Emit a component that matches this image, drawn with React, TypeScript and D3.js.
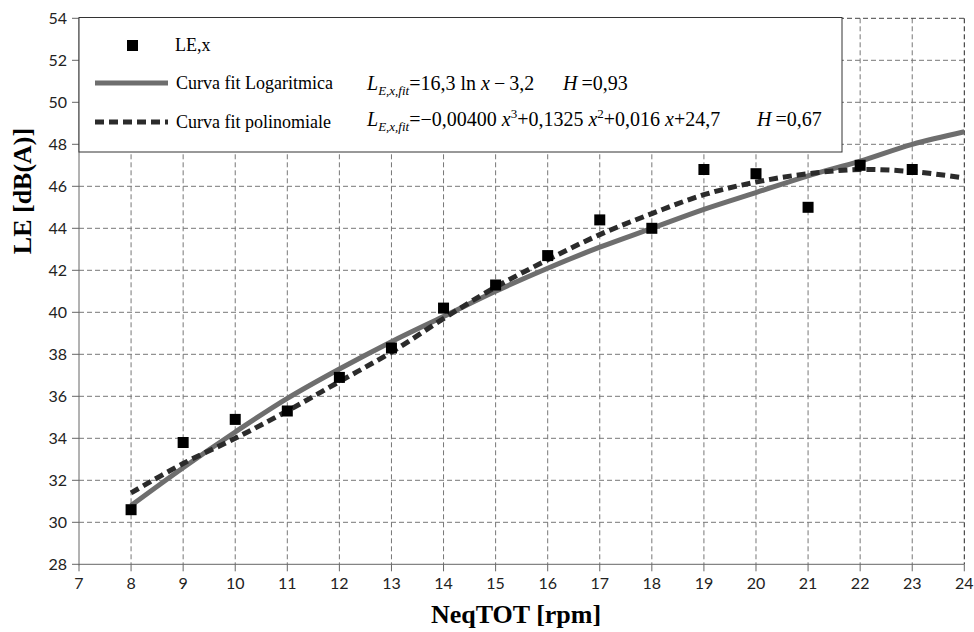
import * as d3 from "d3";

// punti misurati LE,x
const pointX = [8, 9, 10, 11, 12, 13, 14, 15, 16, 17, 18, 19, 20, 21, 22, 23];
const pointY = [30.6, 33.8, 34.9, 35.3, 36.9, 38.3, 40.2, 41.3, 42.7, 44.4, 44.0, 46.8, 46.6, 45.0, 47.0, 46.8];

// curve di fit
const curveX = [8, 9, 10, 11, 12, 13, 14, 15, 16, 17, 18, 19, 20, 21, 22, 23, 24];
const logY = [30.8, 32.6, 34.3, 35.9, 37.3, 38.6, 39.8, 41.0, 42.1, 43.1, 44.0, 44.9, 45.7, 46.5, 47.2, 48.0, 48.6];
const polyY = [31.4, 32.8, 34.0, 35.3, 36.7, 38.1, 39.7, 41.2, 42.5, 43.7, 44.7, 45.6, 46.2, 46.6, 46.8, 46.7, 46.4];

const xTicks = d3.range(7, 25);
const yTicks = d3.range(28, 55, 2);

const W = 974;
const H = 632;
const serif = "'Liberation Serif', 'Times New Roman', serif";
const sans = "Lato, 'Noto Sans', sans-serif";

export default function App() {
  const x = d3.scaleLinear().domain([7, 24]).range([79, 964.3]);
  const y = d3.scaleLinear().domain([28, 54]).range([564.3, 18.3]);

  const line = d3
    .line<number>()
    .x((_, i) => x(curveX[i]))
    .curve(d3.curveCatmullRom);
  const logPath = line.y((d) => y(d))(logY) || "";
  const polyPath = line.y((d) => y(d))(polyY) || "";

  const left = x(7);
  const bottom = y(28);

  return (
    <svg
      width={W}
      height={H}
      style={{ position: "absolute", left: 0, top: 0, background: "#fff" }}
    >
      {/* griglia */}
      {xTicks.slice(1).map((t) => (
        <line
          key={"gx" + t}
          x1={x(t)}
          x2={x(t)}
          y1={y(54)}
          y2={bottom}
          stroke={t === 24 ? "#222" : "#777"}
          strokeDasharray="5,3"
        />
      ))}
      {yTicks.slice(1).map((t) => (
        <line
          key={"gy" + t}
          x1={left}
          x2={x(24)}
          y1={y(t)}
          y2={y(t)}
          stroke={t === 54 ? "#444" : "#777"}
          strokeDasharray="5,3"
        />
      ))}

      {/* assi */}
      <line x1={left} x2={left} y1={y(54)} y2={bottom + 1} stroke="#666" />
      <line x1={left} x2={x(24)} y1={bottom} y2={bottom} stroke="#666" />
      {xTicks.map((t) => (
        <g key={"tx" + t}>
          <line x1={x(t)} x2={x(t)} y1={bottom} y2={bottom + 7} stroke="#666" />
          <text
            x={x(t)}
            y={bottom + 25}
            textAnchor="middle"
            fontFamily={sans}
            fontSize={16}
            fill="#222"
          >
            {t}
          </text>
        </g>
      ))}
      {yTicks.map((t) => (
        <g key={"ty" + t}>
          <line x1={left - 7} x2={left} y1={y(t)} y2={y(t)} stroke="#666" />
          <text
            x={left - 12}
            y={y(t) + 5.5}
            textAnchor="end"
            fontFamily={sans}
            fontSize={16}
            fill="#222"
          >
            {t}
          </text>
        </g>
      ))}

      {/* curve */}
      <path d={logPath} fill="none" stroke="#6e6e6e" strokeWidth={5} />
      <path
        d={polyPath}
        fill="none"
        stroke="#2b2b2b"
        strokeWidth={5}
        strokeDasharray="9,5"
      />

      {/* punti */}
      {pointX.map((px, i) => (
        <rect
          key={"p" + px}
          x={x(px) - 5.5}
          y={y(pointY[i]) - 5.5}
          width={11}
          height={11}
          fill="#000"
        />
      ))}

      {/* legenda */}
      <rect x={left} y={17.5} width={763} height={134.5} fill="#fff" stroke="#333" />
      <rect x={127} y={40} width={11} height={11} fill="#000" />
      <text x={175} y={51} fontFamily={serif} fontSize={18} fill="#000">
        LE,x
      </text>
      <line x1={95} x2={168} y1={83} y2={83} stroke="#6e6e6e" strokeWidth={5} />
      <text x={176} y={89} fontFamily={serif} fontSize={18} fill="#000">
        Curva fit Logaritmica
      </text>
      <line
        x1={95}
        x2={168}
        y1={122}
        y2={122}
        stroke="#2b2b2b"
        strokeWidth={5}
        strokeDasharray="9,5"
      />
      <text x={176} y={128} fontFamily={serif} fontSize={18} fill="#000">
        Curva fit polinomiale
      </text>

      <text x={367} y={90} fontFamily={serif} fontSize={20} fill="#000">
        <tspan fontStyle="italic">L</tspan>
        <tspan fontStyle="italic" fontSize={13} dy={5}>E,x,fit</tspan>
        <tspan dy={-5}>{"=16,3 ln "}</tspan>
        <tspan fontStyle="italic">x</tspan>
        <tspan>{"\u2009\u2212\u20093,2"}</tspan>
      </text>
      <text x={563} y={90} fontFamily={serif} fontSize={20} fill="#000">
        <tspan fontStyle="italic">H</tspan>
        <tspan>{"\u2009=0,93"}</tspan>
      </text>

      <text x={367} y={126} fontFamily={serif} fontSize={20} fill="#000">
        <tspan fontStyle="italic">L</tspan>
        <tspan fontStyle="italic" fontSize={13} dy={5}>E,x,fit</tspan>
        <tspan dy={-5}>{"=\u22120,00400 "}</tspan>
        <tspan fontStyle="italic">x</tspan>
        <tspan fontSize={13} dy={-8}>3</tspan>
        <tspan dy={8}>{"+0,1325 "}</tspan>
        <tspan fontStyle="italic">x</tspan>
        <tspan fontSize={13} dy={-8}>2</tspan>
        <tspan dy={8}>{"+0,016 "}</tspan>
        <tspan fontStyle="italic">x</tspan>
        <tspan>+24,7</tspan>
      </text>
      <text x={757} y={126} fontFamily={serif} fontSize={20} fill="#000">
        <tspan fontStyle="italic">H</tspan>
        <tspan>{"\u2009=0,67"}</tspan>
      </text>

      {/* titoli assi */}
      <text
        x={516}
        y={623}
        textAnchor="middle"
        fontFamily={serif}
        fontWeight="bold"
        fontSize={26}
        fill="#000"
      >
        NeqTOT [rpm]
      </text>
      <text
        x={31}
        y={191}
        textAnchor="middle"
        transform="rotate(-90, 31, 191)"
        fontFamily={serif}
        fontWeight="bold"
        fontSize={26}
        fill="#000"
      >
        LE [dB(A)]
      </text>
    </svg>
  );
}
